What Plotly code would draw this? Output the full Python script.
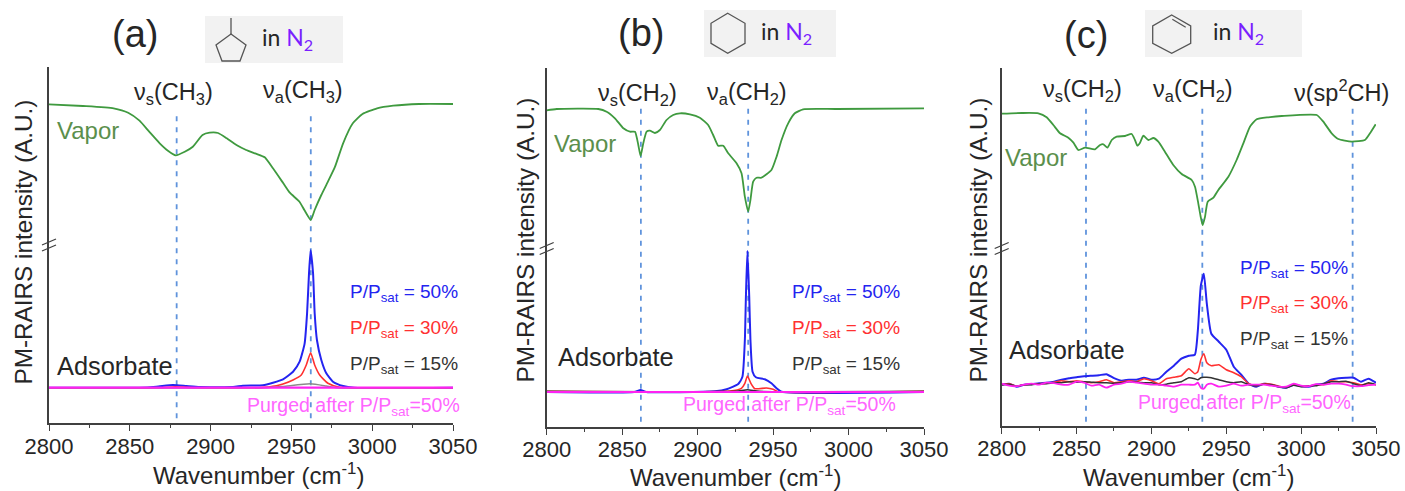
import plotly.graph_objects as go

W, H = 1405, 491
FONT = "Liberation Sans"

# ---------- data: wavenumber (cm-1) and intensity (arbitrary units) ----------
a_vapor_wn = [2800, 2821, 2840, 2849, 2856, 2862, 2868.5, 2873.6, 2878.4, 2884, 2889, 2895, 2899.4, 2904.6, 2910, 2916, 2922, 2928, 2933.5, 2938.6, 2945, 2949, 2955, 2958, 2962, 2964.4, 2968.5, 2972.6, 2977, 2982, 2988, 2994, 3003, 3013, 3029, 3050]
a_vapor = [319, 317.3, 315, 310.6, 302.6, 291.6, 280, 272.6, 268, 271.6, 276.6, 288.3, 290.6, 290.3, 285, 278.3, 273.3, 269.6, 266, 255, 240, 230.6, 221.6, 213.3, 203.3, 213.3, 228.3, 241.6, 256.6, 280, 300, 309.3, 315, 317.6, 319.3, 319.3]
a_50_wn = [2800, 2856, 2866.4, 2876.7, 2885, 2893.2, 2913.9, 2920, 2932.4, 2938.6, 2944.8, 2951, 2955.1, 2958.2, 2959.7, 2960.9, 2961.9, 2963.4, 2964.4, 2965.8, 2968.5, 2971.6, 2975.7, 2982, 2989, 3050]
a_50 = [35.6, 35.6, 36.6, 38.3, 37.3, 36.3, 36.3, 37.6, 38, 40.6, 44, 51.6, 61.6, 80, 110, 150, 173, 150, 110, 83.3, 63.3, 50, 41.6, 37.3, 35.6, 35.6]
a_30_wn = [2800, 2870, 2878, 2890, 2930, 2940.7, 2944.8, 2951, 2956.1, 2959.2, 2961.9, 2964.4, 2967.5, 2972.6, 2979.9, 3050]
a_30 = [35.6, 35.6, 36.6, 35.6, 35.6, 37.5, 39.3, 43.3, 48.3, 58.3, 70.6, 58.3, 48.3, 40, 36, 35.6]
a_15_wn = [2800, 2934.5, 2944.8, 2961.9, 2971.6, 2977.8, 3050]
a_15 = [35.6, 35.6, 36.9, 39.6, 37.3, 35.6, 35.6]
a_purged_wn = [2800, 3050]
a_purged = [35.6, 35.6]

b_vapor_wn = [2800, 2806.6, 2834.2, 2839.7, 2845.2, 2850.8, 2855.2, 2858.5, 2860.7, 2862.2, 2864, 2866.2, 2868.4, 2871.7, 2875, 2879.4, 2883.8, 2888.3, 2894.9, 2901.5, 2907, 2910.3, 2913.6, 2917, 2920.3, 2925.8, 2929.1, 2931.3, 2933.5, 2935, 2936.8, 2939, 2942.3, 2948.9, 2952.3, 2955.6, 2960, 2964.4, 2969.9, 2992, 3050]
b_vapor = [316.4, 317.7, 317.7, 315, 308.4, 298.4, 295, 295, 281.7, 270.7, 283.4, 295, 296, 293.7, 296.7, 306.7, 311.7, 313.4, 312.4, 309, 301.7, 291.7, 281, 281, 273.4, 263.4, 253.4, 230, 215, 226.7, 245, 249, 249, 256.7, 270, 286.7, 303.4, 313.4, 317.4, 317.7, 318.4]
b_50_wn = [2800, 2858, 2862.2, 2866, 2911.4, 2919.2, 2926.9, 2929.7, 2931.3, 2932, 2933, 2934.2, 2935, 2936.4, 2938.6, 2944.5, 2948.9, 2952.3, 2955.6, 3050]
b_50 = [34.7, 34.7, 36.7, 34.7, 35.4, 37.4, 42.7, 50, 86.7, 130, 176, 130, 86.7, 55, 49.4, 47.4, 43.4, 38.4, 35, 34.7]
b_30_wn = [2800, 2921.4, 2929, 2931.3, 2933, 2935.3, 2937.9, 2945.6, 2950, 2953.4, 3050]
b_30 = [35.4, 35.7, 38.4, 43.4, 50.7, 43.4, 38, 38.7, 37.4, 35, 35.4]
b_15_wn = [2800, 2925, 2933, 2941, 3050]
b_15 = [35.4, 35.4, 37, 35.4, 35.4]
b_purged_wn = [2800, 3050]
b_purged = [34.7, 34.7]

c_vapor_wn = [2800, 2813.4, 2824.5, 2830, 2834.5, 2839, 2844.5, 2847.9, 2851.2, 2855.7, 2862.3, 2865.7, 2867.9, 2870.6, 2873.5, 2876.8, 2882.4, 2886.8, 2889, 2890.6, 2892.4, 2894.6, 2898, 2901.3, 2904.6, 2909, 2914.6, 2920.2, 2926.9, 2929.1, 2931.3, 2932.9, 2934.2, 2935.8, 2937.6, 2941.4, 2944.7, 2951.4, 2956.9, 2961.4, 2965.8, 2970.3, 2978.1, 2987, 3010.4, 3014.8, 3020.4, 3024.8, 3033.7, 3042.6, 3046, 3049.8]
c_vapor = [312, 312.7, 312.4, 308.4, 300.7, 292.4, 288, 283, 275.7, 278, 276.4, 280.7, 281.4, 278, 285.7, 289, 289.7, 291.7, 285.7, 280, 283, 290, 285.7, 287.7, 284, 274, 260.7, 251.7, 245.7, 239, 222.4, 209, 200.7, 209, 224, 228, 235.7, 249, 265.7, 282.4, 299, 306.4, 308.4, 309.7, 310.7, 304, 292.4, 286.7, 284, 285.7, 292.4, 301.4]
c_wn = [2800, 2805, 2810, 2815, 2820, 2825, 2830, 2835, 2840, 2845, 2850, 2855, 2860, 2865, 2870, 2875, 2880, 2885, 2890, 2895, 2900, 2905, 2910, 2915, 2920, 2925, 2929, 2931, 2933, 2935, 2937, 2940, 2945, 2950, 2955, 2960, 2965, 2970, 2975, 2980, 2985, 2990, 2995, 3000, 3005, 3010, 3015, 3020, 3025, 3030, 3035, 3040, 3045, 3050]
c_50 = [41, 42, 39, 41, 41.5, 42.5, 43, 44, 46, 47.5, 48.5, 49.5, 50, 50.5, 51.5, 47.5, 45, 46, 46, 48, 46, 47, 54, 60, 67, 70, 71, 95, 140, 152, 122, 92, 84, 76, 59, 51, 42, 39, 42, 41, 39, 38, 41, 39.5, 39, 41, 42, 46, 47.5, 48, 48, 44, 47, 43]
c_30 = [41, 42, 39.5, 41, 41.5, 42, 42.5, 43.5, 45, 44, 45, 44, 43, 44, 46, 43, 44, 45, 44, 47, 45, 42, 47, 48.5, 50, 57, 52, 54, 66, 72, 63, 60, 61, 56, 53, 49, 42, 40, 42, 41.5, 39.5, 38.5, 41, 39.5, 39.5, 41, 41, 45, 44, 44, 43, 41, 42, 41]
c_15 = [41, 41.5, 39.5, 41, 41, 42, 42, 43, 43, 44, 43.5, 44, 43.5, 43, 43, 42.5, 43, 44, 43.5, 43, 43, 41, 41.5, 43, 44, 48, 47, 46, 48, 48.5, 48.5, 48, 46, 44, 43, 44, 41, 40, 41.5, 41, 39, 38, 40.5, 39, 40, 40, 42, 44, 44, 44.5, 42, 40, 43, 41]
c_purged = [42, 40, 39.5, 41, 42, 41, 43, 42.5, 41, 41, 44, 43, 40, 41, 38, 41, 42, 44, 43, 42, 41, 41, 40, 39, 41, 41, 41, 43, 38, 37, 41, 42, 39, 40, 42, 40, 41, 41, 41, 40, 39, 39, 42, 40, 39.5, 41.5, 41, 42, 42, 41, 39.5, 39.5, 40.5, 41]

a_bands = [2879, 2962]
b_bands = [2862.4, 2933.5]
c_bands = [2856.3, 2934, 3034.4]

tick_vals = [2800, 2850, 2900, 2950, 3000, 3050]
x_title = "Wavenumber (cm<sup>-1</sup>)"
y_title = "PM-RAIRS intensity (A.U.)"
band_sym_CH3 = "ν<sub>s</sub>(CH<sub>3</sub>)"
band_asym_CH3 = "ν<sub>a</sub>(CH<sub>3</sub>)"
band_sym_CH2 = "ν<sub>s</sub>(CH<sub>2</sub>)"
band_asym_CH2 = "ν<sub>a</sub>(CH<sub>2</sub>)"
band_sp2 = "ν(sp<sup>2</sup>CH)"
label_50 = "P/P<sub>sat</sub> = 50%"
label_30 = "P/P<sub>sat</sub> = 30%"
label_15 = "P/P<sub>sat</sub> = 15%"
label_purged = "Purged after P/P<sub>sat</sub>=50%"

# ---------- styles ----------
GREEN, BLUE, RED, PINK = "#3f9a3f", "#2424f0", "#ff3030", "#ff22f0"
AXIS = "#404040"
DASH = "#5f93dc"


def px(x):
    return x / W


def py(y):
    return 1 - y / H


panels = [
    dict(left=49, right=453, top=66.7, bottom=423.3, band_top=310, band_bottom=5,
         vapor=(a_vapor_wn, a_vapor), bands=a_bands,
         s50=(a_50_wn, a_50), s30=(a_30_wn, a_30), s15=(a_15_wn, a_15), purged=(a_purged_wn, a_purged),
         grey="#8a8a8a", purged_width=2.2),
    dict(left=546.7, right=924, top=68, bottom=426.7, band_top=320, band_bottom=5,
         vapor=(b_vapor_wn, b_vapor), bands=b_bands,
         s50=(b_50_wn, b_50), s30=(b_30_wn, b_30), s15=(b_15_wn, b_15), purged=(b_purged_wn, b_purged),
         grey="#333333", purged_width=2.2),
    dict(left=1001.7, right=1376, top=68, bottom=425.7, band_top=318, band_bottom=4,
         vapor=(c_vapor_wn, c_vapor), bands=c_bands,
         s50=(c_wn, c_50), s30=(c_wn, c_30), s15=(c_wn, c_15), purged=(c_wn, c_purged),
         grey="#333333", purged_width=1.8),
]

fig = go.Figure()
layout = dict(width=W, height=H, margin=dict(l=0, r=0, t=0, b=0), showlegend=False,
              paper_bgcolor="white", plot_bgcolor="white",
              font=dict(family=FONT, color="#262626"))

for i, p in enumerate(panels):
    suffix = "" if i == 0 else str(i + 1)
    xa, ya = "x" + suffix, "y" + suffix
    for wn in p["bands"]:
        fig.add_trace(go.Scatter(x=[wn, wn], y=[p["band_bottom"], p["band_top"]], mode="lines", xaxis=xa, yaxis=ya,
                                 line=dict(color=DASH, width=1.8, dash="5px,6px"), hoverinfo="skip"))
    series = [(p["vapor"], GREEN, 1.8, "Vapor"), (p["s50"], BLUE, 2.0, "50%"), (p["s30"], RED, 1.6, "30%"),
              (p["s15"], p["grey"], 1.5, "15%"), (p["purged"], PINK, p["purged_width"], "Purged")]
    for (xs, ys), color, width, name in series:
        fig.add_trace(go.Scatter(x=xs, y=ys, mode="lines", xaxis=xa, yaxis=ya, name=name,
                                 line=dict(color=color, width=width, shape="spline", smoothing=0.5)))
    layout["xaxis" + suffix] = dict(
        domain=[px(p["left"]), px(p["right"])], range=[2800, 3050], anchor=ya,
        tickmode="array", tickvals=tick_vals, ticks="outside", ticklen=6, tickwidth=1.3, tickcolor=AXIS,
        minor=dict(dtick=25, tick0=2800, ticks="outside", ticklen=3, tickwidth=1.1, tickcolor=AXIS),
        showline=True, linecolor=AXIS, linewidth=1.6, showgrid=False, zeroline=False, ticklabelstandoff=-4,
        tickfont=dict(size=22, family=FONT, color="#262626"), automargin=False)
    layout["yaxis" + suffix] = dict(
        domain=[py(p["bottom"]), py(p["top"])], range=[0, p["bottom"] - p["top"]], anchor=xa,
        showline=True, linecolor=AXIS, linewidth=1.6, showgrid=False, zeroline=False,
        showticklabels=False, ticks="", automargin=False)

TXT = "#262626"
labels = [
    # text, centre x, centre y, size, colour
    ("(a)", 135, 34, 38, TXT), ("(b)", 640.7, 33, 38, TXT), ("(c)", 1086, 35, 38, TXT),
    (band_sym_CH3, 173.5, 93, 23.5, TXT), (band_asym_CH3, 302.5, 92, 23.5, TXT),
    (band_sym_CH2, 637, 95, 23.5, TXT), (band_asym_CH2, 746.5, 93, 23.5, TXT),
    (band_sym_CH2, 1082.5, 91, 23.5, TXT), (band_asym_CH2, 1192.5, 91, 23.5, TXT), (band_sp2, 1341.5, 91, 23.5, TXT),
    ("Vapor", 88.5, 130, 24, "#5b8f4c"), ("Vapor", 584.5, 143, 24, "#5b8f4c"), ("Vapor", 1035.5, 157, 24, "#5b8f4c"),
    ("Adsorbate", 114.5, 366, 25.4, TXT), ("Adsorbate", 615.5, 357, 25.4, TXT), ("Adsorbate", 1067, 350, 25.4, TXT),
    (label_50, 403.5, 293, 19, BLUE), (label_30, 403.5, 329, 19, RED), (label_15, 403.5, 365, 19, "#333333"),
    (label_50, 845.5, 293, 19, BLUE), (label_30, 845.5, 329, 19, RED), (label_15, 845.5, 365, 19, "#333333"),
    (label_50, 1293.5, 269, 19, BLUE), (label_30, 1293.5, 304, 19, RED), (label_15, 1293.5, 340, 19, "#333333"),
    (label_purged, 354, 406, 19.5, "#ff66ff"), (label_purged, 789, 405, 19.5, "#ff66ff"), (label_purged, 1244, 403, 19.5, "#ff66ff"),
    (x_title, 258, 474, 24, TXT), (x_title, 735, 476, 24, TXT), (x_title, 1188, 476, 24, TXT),
]
annotations = [dict(text=t, x=px(x), y=py(y), xref="paper", yref="paper", xanchor="center", yanchor="middle",
                    showarrow=False, font=dict(size=s, color=c, family=FONT), borderpad=0)
               for t, x, y, s, c in labels]
for x, y in [(23, 242.5), (525, 240.5), (978, 240.5)]:
    annotations.append(dict(text=y_title, x=px(x), y=py(y), xref="paper", yref="paper", textangle=-90,
                            xanchor="center", yanchor="middle", showarrow=False,
                            font=dict(size=24.3, color=TXT, family=FONT)))
for x, y in [(287.5, 38), (786.5, 33), (1238.5, 33)]:
    annotations.append(dict(text='in <span style="color:#7a1fff">N<sub>2</sub></span>', x=px(x), y=py(y),
                            xref="paper", yref="paper", xanchor="center", yanchor="middle", showarrow=False,
                            font=dict(size=23, color=TXT, family="Lato")))
layout["annotations"] = annotations


def poly(points, closed=True, color="#555555", width=1.3):
    d = "M" + " L".join(f"{px(x):.5f},{py(y):.5f}" for x, y in points) + (" Z" if closed else "")
    return dict(type="path", path=d, xref="paper", yref="paper", line=dict(color=color, width=width))


shapes = []
for x0, y0, x1, y1 in [(205, 16, 343, 63), (704, 10, 836, 57), (1145, 10, 1302, 57)]:
    shapes.append(dict(type="rect", xref="paper", yref="paper", x0=px(x0), x1=px(x1), y0=py(y0), y1=py(y1),
                       fillcolor="#f2f2f2", line=dict(width=0), layer="below"))
shapes.append(poly([(231, 34), (246, 45), (240, 61), (222, 61), (216, 45)]))
shapes.append(poly([(231, 34), (231, 18)], closed=False))
shapes.append(poly([(727.7, 13.3), (745, 23.3), (745, 43.3), (727.7, 53.3), (711, 43.3), (711, 23.3)]))
shapes.append(poly([(1171.7, 15), (1190.7, 26), (1190.7, 43.3), (1171.7, 53.3), (1152.7, 43.3), (1152.7, 26)]))
shapes.append(poly([(1172.3, 19.3), (1185.7, 27.3)], closed=False))
# axis-break marks
for x, y in [(49, 245), (546.7, 248.5), (1001.7, 248.5)]:
    for dy in (-3, 3):
        shapes.append(poly([(x - 7, y + dy + 3), (x + 7, y + dy - 3)], closed=False, color=AXIS, width=1.3))
layout["shapes"] = shapes

fig.update_layout(**layout)
fig.write_html("out.html", config={"displayModeBar": False},
               post_script="document.body.style.margin='0';document.body.style.overflow='hidden';")
